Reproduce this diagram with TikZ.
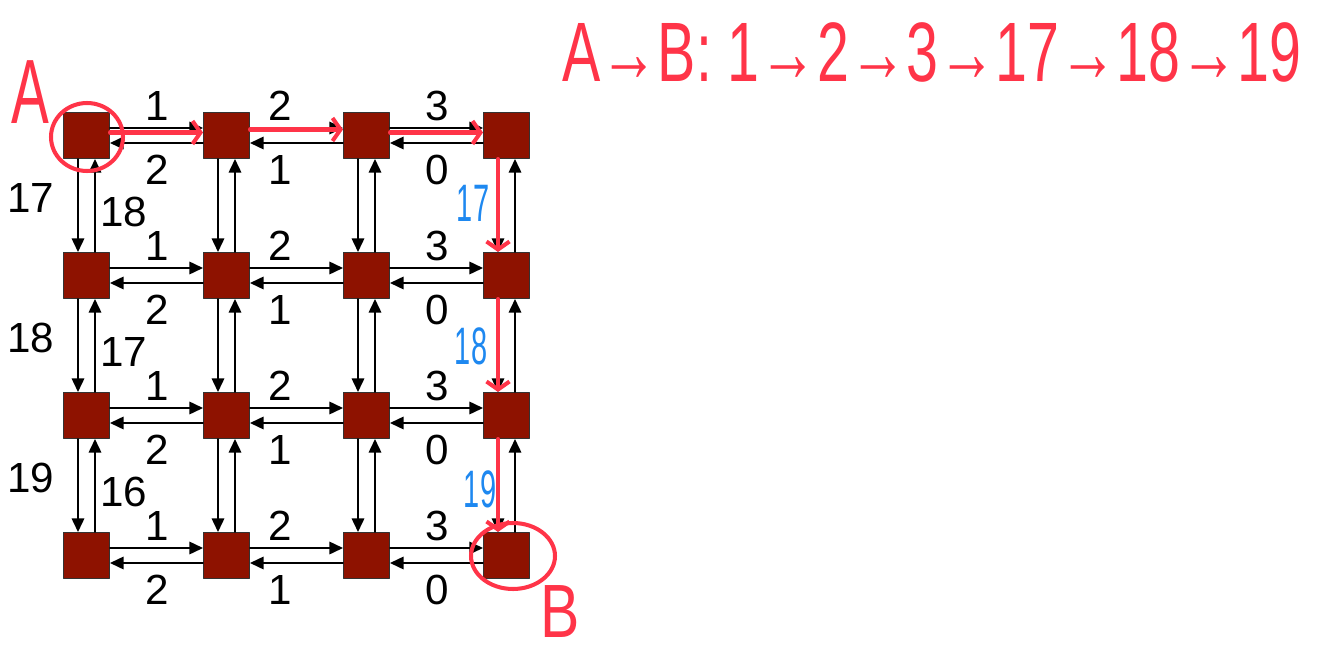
\documentclass[tikz,border=0pt]{standalone}
\usepackage{fontspec}
\setmainfont{Liberation Sans}
\usepackage{tikz}
\usetikzlibrary{arrows.meta,calc,positioning,shapes.geometric}
\definecolor{sqred}{RGB}{142,18,0}
\definecolor{penred}{RGB}{255,52,72}
\definecolor{penblue}{RGB}{30,136,240}
\tikzset{
  router/.style={rectangle, draw=black!80, fill=sqred, line width=0.6pt, minimum size=0.92cm, inner sep=0pt},
  link/.style={line width=0.9pt, -{Triangle[length=0.27cm,width=0.25cm]}},
  wt/.style={font=\fontsize{24}{24}\selectfont, inner sep=0pt},
  pen/.style={penred, line width=2.3pt, line cap=round},
  pentip/.style={pen, -{Straight Barb[length=0.16cm,width=0.46cm]}},
  ring/.style={ellipse, draw=penred, line width=2.3pt, inner sep=0pt},
  hand/.style={text=penred, inner sep=0pt},
  note/.style={text=penblue, inner sep=0pt, font=\fontsize{30}{30}\selectfont},
  every picture/.style={line cap=round, line join=round}
}

\begin{document}
\begin{tikzpicture}[x=0.02cm, y=-0.02cm]
  \useasboundingbox (0,0) rectangle (1331,658);
  % routers
  \foreach \r in {1,...,4}
    \foreach \c in {1,...,4}
      \node[router] (n\r\c) at ({86.5+140*(\c-1)},{135.5+140*(\r-1)}) {};
  % horizontal links
  \foreach \r in {1,...,4}
    \foreach \c/\d in {1/2,2/3,3/4} {
      \draw[link] ([yshift=0.15cm]n\r\c.east) -- ([yshift=0.15cm]n\r\d.west);
      \draw[link] ([yshift=-0.15cm]n\r\d.west) -- ([yshift=-0.15cm]n\r\c.east);
    }
  % vertical links
  \foreach \c in {1,...,4}
    \foreach \r/\s in {1/2,2/3,3/4} {
      \draw[link] ([xshift=-0.17cm]n\r\c.south) -- ([xshift=-0.17cm]n\s\c.north);
      \draw[link] ([xshift=0.17cm]n\s\c.north) -- ([xshift=0.17cm]n\r\c.south);
    }
  % weights
  \foreach \r in {1,...,4}
    \foreach \c/\x/\a/\b in {1/157/1/2, 2/280/2/1, 3/437/3/0} {
      \node[wt] (fw\r\c) at (\x,{105.5+140*(\r-1)}) {\a};
      \node[wt] (bw\r\c) at (\x,{170+140*(\r-1)}) {\b};
    }
  \foreach \r/\a/\b in {1/17/18, 2/18/17, 3/19/16} {
    \node[wt] (dw\r) at (31,{198+140*(\r-1)}) {\a};
    \node[wt] (uw\r) at (124,{212+140*(\r-1)}) {\b};
  }
  % route A -> B
  \node[ring, minimum width=1.44cm, minimum height=1.36cm] (ringA) at (87,137) {};
  \node[ring, minimum width=1.68cm, minimum height=1.32cm] (ringB) at (513,556) {};
  \draw[pentip] ([yshift=0.06cm]n11.east) -- ([yshift=0.06cm]n12.west);
  \draw[pentip] ([yshift=0.12cm]n12.east) -- ([yshift=0.12cm]n13.west);
  \draw[pentip] ([yshift=0.06cm]n13.east) -- ([yshift=0.06cm]n14.west);
  \draw[pentip] ([xshift=-0.17cm]n14.south) -- ([xshift=-0.17cm]n24.north);
  \draw[pentip] ([xshift=-0.17cm]n24.south) -- ([xshift=-0.17cm]n34.north);
  \draw[pentip] ([xshift=-0.17cm]n34.south) -- ([xshift=-0.17cm]n44.north);
  \node[note] (h17) at (473,203) {\scalebox{0.55}[1]{17}};
  \node[note] (h18) at (471,346) {\scalebox{0.55}[1]{18}};
  \node[note] (h19) at (480,489) {\scalebox{0.55}[1]{19}};
  \node[hand, font=\fontsize{52}{52}\selectfont] (lblA) at (30,92) {\scalebox{0.62}[1]{A}};
  \node[hand, font=\fontsize{43}{43}\selectfont] (lblB) at (560,612) {\scalebox{0.78}[1]{B}};
  \node[hand, font=\fontsize{48}{48}\selectfont] (route) at (932,52)
    {\scalebox{0.68}[1]{A→B: 1→2→3→17→18→19}};
\end{tikzpicture}
\end{document}
